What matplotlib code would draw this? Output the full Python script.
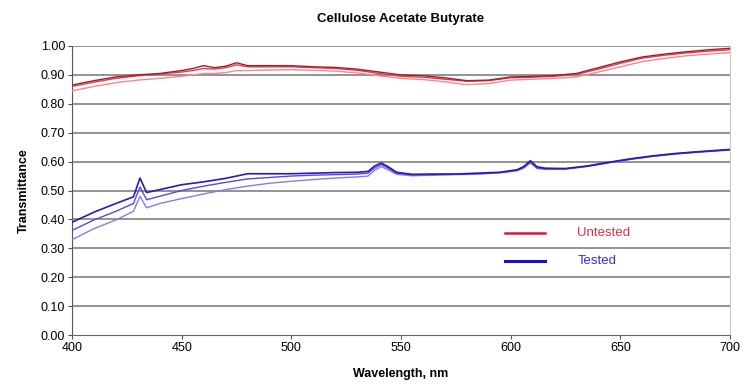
import matplotlib
matplotlib.use("Agg")
import matplotlib.pyplot as plt
import numpy as np

plt.rcParams['font.family'] = ['Liberation Sans', 'DejaVu Sans']

# ---- data ----
wl_red = [400, 410, 420, 430, 440, 450, 455, 460, 465, 470, 475, 480, 490, 500, 510, 520, 530,
          540, 550, 560, 570, 580, 590, 600, 610, 620, 630, 640, 650, 660, 670, 680, 690, 700]
untested_1 = [0.865, 0.880, 0.893, 0.900, 0.905, 0.915, 0.922, 0.932, 0.925, 0.930, 0.942, 0.932,
              0.932, 0.932, 0.928, 0.926, 0.920, 0.910, 0.900, 0.897, 0.890, 0.880, 0.882, 0.893,
              0.895, 0.898, 0.905, 0.925, 0.945, 0.962, 0.972, 0.980, 0.987, 0.992]
untested_2 = [0.860, 0.875, 0.888, 0.897, 0.903, 0.910, 0.915, 0.922, 0.920, 0.925, 0.935, 0.928,
              0.928, 0.928, 0.925, 0.922, 0.916, 0.905, 0.895, 0.892, 0.885, 0.878, 0.880, 0.890,
              0.892, 0.895, 0.902, 0.920, 0.940, 0.958, 0.968, 0.976, 0.982, 0.987]
untested_3 = [0.845, 0.860, 0.873, 0.882, 0.888, 0.895, 0.900, 0.905, 0.905, 0.908, 0.915, 0.915,
              0.917, 0.918, 0.916, 0.913, 0.907, 0.897, 0.888, 0.884, 0.876, 0.866, 0.870, 0.882,
              0.885, 0.888, 0.893, 0.910, 0.928, 0.946, 0.957, 0.966, 0.972, 0.977]

wl_blue = [400, 410, 420, 428, 431, 434, 440, 450, 460, 470, 480, 490, 500, 510, 520, 530, 535,
           538, 541, 544, 548, 555, 565, 575, 585, 595, 603, 606, 609, 612, 616, 625, 635,
           645, 655, 665, 675, 685, 700]
tested_1 = [0.390, 0.425, 0.455, 0.478, 0.543, 0.493, 0.503, 0.520, 0.530, 0.542, 0.558, 0.558,
            0.558, 0.560, 0.562, 0.563, 0.566, 0.585, 0.595, 0.583, 0.563, 0.556, 0.557, 0.557,
            0.560, 0.563, 0.572, 0.583, 0.603, 0.582, 0.577, 0.576, 0.585, 0.598, 0.610, 0.620,
            0.628, 0.634, 0.642]
tested_2 = [0.362, 0.398, 0.428, 0.455, 0.512, 0.468, 0.480, 0.500, 0.515, 0.528, 0.540, 0.545,
            0.550, 0.553, 0.555, 0.557, 0.560, 0.578, 0.590, 0.578, 0.560, 0.554, 0.555, 0.556,
            0.558, 0.562, 0.570, 0.580, 0.598, 0.578, 0.575, 0.575, 0.584, 0.597, 0.609, 0.619,
            0.627, 0.633, 0.641]
tested_3 = [0.330, 0.368, 0.398, 0.428, 0.480, 0.440, 0.455, 0.472, 0.488, 0.503, 0.515, 0.525,
            0.532, 0.538, 0.543, 0.547, 0.550, 0.570, 0.583, 0.572, 0.556, 0.551, 0.553, 0.555,
            0.557, 0.561, 0.568, 0.578, 0.596, 0.576, 0.573, 0.574, 0.583, 0.596, 0.608, 0.618,
            0.626, 0.632, 0.640]

x_ticks = [400, 450, 500, 550, 600, 650, 700]
y_ticks = [0.0, 0.1, 0.2, 0.3, 0.4, 0.5, 0.6, 0.7, 0.8, 0.9, 1.0]

title = "Cellulose Acetate Butyrate"
xlabel = "Wavelength, nm"
ylabel = "Transmittance"
legend_labels = ["Untested", "Tested"]

# ---- figure ----
fig = plt.figure(figsize=(7.42, 3.86), dpi=100)
ax = fig.add_axes([72/742, 1-335/386, (730-72)/742, (335-46)/386])

for yv in y_ticks[1:]:
    ax.axhline(yv, color='#8a8a8a', lw=1.3, zorder=1)

ax.plot(wl_red, untested_3, color='#ec8a96', lw=1.0, zorder=3)
ax.plot(wl_red, untested_2, color='#d84050', lw=1.0, zorder=3)
ax.plot(wl_red, untested_1, color='#b01828', lw=1.0, zorder=3)

ax.plot(wl_blue, tested_3, color='#8a7ae8', lw=1.0, zorder=3)
ax.plot(wl_blue, tested_2, color='#5a4ad8', lw=1.0, zorder=3)
ax.plot(wl_blue, tested_1, color='#2a1ab8', lw=1.2, zorder=3)

ax.set_xlim(400, 700)
ax.set_ylim(0, 1.0)
ax.set_xticks(x_ticks)
ax.set_xticklabels([str(v) for v in x_ticks], fontsize=9)
ax.set_yticks(y_ticks)
ax.set_yticklabels([f"{v:.2f}" for v in y_ticks], fontsize=9)
ax.tick_params(axis='both', length=3, width=0.8, color='#555555', direction='out', pad=2)

ax.spines['top'].set_visible(False)
ax.spines['right'].set_color('#c8c8c8')
ax.spines['left'].set_color('#555555')
ax.spines['bottom'].set_color('#666666')

ax.set_title(title, fontsize=9.5, fontweight='bold', pad=17)
ax.set_xlabel(xlabel, fontsize=9, fontweight='bold', labelpad=10)
ax.set_ylabel(ylabel, fontsize=9, fontweight='bold', labelpad=8)

# legend drawn inside the axes (positions in axes-fraction terms)
def px_to_x(px):
    return 400 + (px - 72) * 300 / (730 - 72)
def py_to_y(py):
    return (335 - py) / 289
lx0, lx1 = 505, 545
ax.plot([px_to_x(lx0), px_to_x(lx1)], [py_to_y(233)] * 2, color='#d02030', lw=1.8, zorder=4)
ax.plot([px_to_x(lx0), px_to_x(lx1)], [py_to_y(261)] * 2, color='#1a10c0', lw=2.2, zorder=4)
ax.text(px_to_x(577), py_to_y(233), legend_labels[0], color='#e03040', fontsize=9.5,
        va='center', ha='left', zorder=4)
ax.text(px_to_x(578), py_to_y(261), legend_labels[1], color='#3030d0', fontsize=9.5,
        va='center', ha='left', zorder=4)

fig.savefig("out.png", dpi=100)
